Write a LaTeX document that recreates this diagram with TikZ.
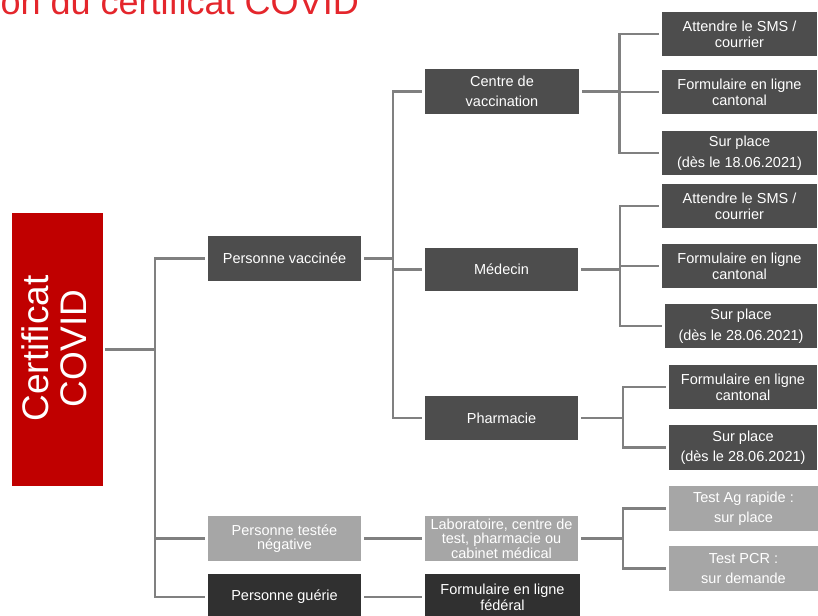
\documentclass[tikz,border=0pt]{standalone}
\usepackage{fontspec}
\setmainfont{Liberation Sans}
\definecolor{boxdark}{RGB}{77,77,77}
\definecolor{boxlight}{RGB}{166,166,166}
\definecolor{boxdeep}{RGB}{48,48,48}
\definecolor{certred}{RGB}{192,0,0}
\definecolor{titlered}{RGB}{228,38,44}
\definecolor{linegray}{RGB}{128,128,128}
\begin{document}
\begin{tikzpicture}[x=1pt,y=-1pt,
  box/.style={rectangle, inner sep=0pt, text=white, align=center,
    font=\fontsize{14.5}{16}\selectfont, minimum height=45pt, minimum width=153pt},
  darkbox/.style={box, fill=boxdark},
  lightbox/.style={box, fill=boxlight},
  deepbox/.style={box, fill=boxdeep},
  leafbox/.style={darkbox, minimum width=155pt, minimum height=44pt},
  wide/.style={font=\fontsize{14.5}{20.5}\selectfont},
  tight/.style={font=\fontsize{14.5}{14.5}\selectfont},
  conn/.style={draw=linegray, line width=2.5pt},
  tochild/.style={conn, shorten >=3pt},
  fromparent/.style={conn, shorten <=3pt},
]
\useasboundingbox (0,0) rectangle (818,615);
\clip (0,0) rectangle (818,615);

% title
\node (title) [anchor=base east, inner sep=0pt, text=titlered,
  font=\fontsize{36}{36}\selectfont] at (359,15) {Obtention du certificat COVID};

% root
\node (cert) [rectangle, fill=certred, minimum width=91pt, minimum height=273pt,
  inner sep=0pt] at (57.5,349.5) {};
\node (certtext) [rotate=90, inner sep=0pt, text=white, align=center,
  font=\fontsize{37}{38.5}\selectfont] at (54.5,348.5) {Certificat\\COVID};

% level 1
\node (pv) [darkbox] at (284.5,258.5) {Personne vaccinée};
\node (pt) [lightbox, tight] at (284.5,538.5) {Personne testée\\négative};
\node (pg) [deepbox, minimum height=46pt] at (284.5,597) {Personne guérie};

% level 2
\node (cv) [darkbox, wide, minimum width=154pt] at (502,91.5) {Centre de\\vaccination};
\node (med) [darkbox, minimum height=43pt] at (501.5,269.5) {Médecin};
\node (ph) [darkbox, minimum height=44pt] at (501.5,418) {Pharmacie};
\node (lab) [lightbox, tight] at (501.5,538.5) {Laboratoire, centre de\\test, pharmacie ou\\cabinet médical};
\node (ff) [deepbox, minimum width=155pt, minimum height=46pt] at (502.5,597) {Formulaire en ligne\\fédéral};

% leaves: Centre de vaccination
\node (cv1) [leafbox] at (739.5,34) {Attendre le SMS /\\courrier};
\node (cv2) [leafbox] at (739.5,92) {Formulaire en ligne\\cantonal};
\node (cv3) [leafbox, wide] at (739.5,153) {Sur place\\(dès le 18.06.2021)};
% leaves: Medecin
\node (m1) [leafbox] at (739.5,206) {Attendre le SMS /\\courrier};
\node (m2) [leafbox] at (739.5,266) {Formulaire en ligne\\cantonal};
\node (m3) [leafbox, wide, minimum width=152pt] at (741,326) {Sur place\\(dès le 28.06.2021)};
% leaves: Pharmacie
\node (p1) [leafbox, minimum width=148pt] at (743,387) {Formulaire en ligne\\cantonal};
\node (p2) [leafbox, wide, minimum width=148pt, minimum height=45pt] at (743,447.5) {Sur place\\(dès le 28.06.2021)};
% leaves: tests
\node (t1) [lightbox, wide, minimum width=149pt] at (743.5,508.5) {Test Ag rapide :\\sur place};
\node (t2) [lightbox, wide, minimum width=149pt] at (743.5,568.5) {Test PCR :\\sur demande};

% junctions
\coordinate (j0) at (155,349.5);
\coordinate (j1) at (393,258.5);
\coordinate (j2) at (619.5,91.5);
\coordinate (j3) at (620,269.5);
\coordinate (j4) at (623,418);
\coordinate (j5) at (623,538.5);

% connectors
\draw[conn, shorten <=2pt] (cert) -- (j0);
\draw[tochild] (j0) |- (pv);
\draw[tochild] (j0) |- (pt);
\draw[tochild] (j0) |- (pg);

\draw[fromparent] (pv) -- (j1);
\draw[tochild] (j1) |- (cv);
\draw[tochild] (j1) |- (med);
\draw[tochild] (j1) |- (ph);

\draw[fromparent] (cv) -- (j2);
\draw[tochild] (j2) |- (cv1);
\draw[tochild] (j2) |- (cv2);
\draw[tochild] (j2) |- (cv3);

\draw[fromparent] (med) -- (j3);
\draw[tochild] (j3) |- (m1);
\draw[tochild] (j3) |- (m2);
\draw[tochild] (j3) |- (m3);

\draw[fromparent] (ph) -- (j4);
\draw[tochild] (j4) |- (p1);
\draw[tochild] (j4) |- (p2);

\draw[fromparent, shorten >=3pt] (pt) -- (lab);
\draw[fromparent] (lab) -- (j5);
\draw[tochild] (j5) |- (t1);
\draw[tochild] (j5) |- (t2);

\draw[fromparent, shorten >=3pt] (pg) -- (ff);
\end{tikzpicture}
\end{document}
